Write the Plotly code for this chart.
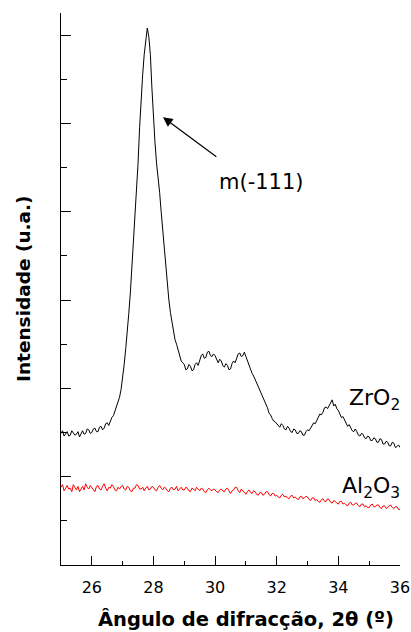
import plotly.graph_objects as go

# ---- data ----
angle_2theta = [
    25.00, 25.05, 25.10, 25.15, 25.20, 25.25, 25.30, 25.35, 25.40, 25.45, 25.50, 25.55, 25.60, 25.65, 25.70, 25.75, 25.80, 25.85, 25.90, 25.95,
    26.00, 26.05, 26.10, 26.15, 26.20, 26.25, 26.30, 26.35, 26.40, 26.45, 26.50, 26.55, 26.60, 26.65, 26.70, 26.75, 26.80, 26.85, 26.90, 26.95,
    27.00, 27.05, 27.10, 27.15, 27.20, 27.25, 27.30, 27.35, 27.40, 27.45, 27.50, 27.55, 27.60, 27.65, 27.70, 27.75, 27.80, 27.85, 27.90, 27.95,
    28.00, 28.05, 28.10, 28.15, 28.20, 28.25, 28.30, 28.35, 28.40, 28.45, 28.50, 28.55, 28.60, 28.65, 28.70, 28.75, 28.80, 28.85, 28.90, 28.95,
    29.00, 29.05, 29.10, 29.15, 29.20, 29.25, 29.30, 29.35, 29.40, 29.45, 29.50, 29.55, 29.60, 29.65, 29.70, 29.75, 29.80, 29.85, 29.90, 29.95,
    30.00, 30.05, 30.10, 30.15, 30.20, 30.25, 30.30, 30.35, 30.40, 30.45, 30.50, 30.55, 30.60, 30.65, 30.70, 30.75, 30.80, 30.85, 30.90, 30.95,
    31.00, 31.05, 31.10, 31.15, 31.20, 31.25, 31.30, 31.35, 31.40, 31.45, 31.50, 31.55, 31.60, 31.65, 31.70, 31.75, 31.80, 31.85, 31.90, 31.95,
    32.00, 32.05, 32.10, 32.15, 32.20, 32.25, 32.30, 32.35, 32.40, 32.45, 32.50, 32.55, 32.60, 32.65, 32.70, 32.75, 32.80, 32.85, 32.90, 32.95,
    33.00, 33.05, 33.10, 33.15, 33.20, 33.25, 33.30, 33.35, 33.40, 33.45, 33.50, 33.55, 33.60, 33.65, 33.70, 33.75, 33.80, 33.85, 33.90, 33.95,
    34.00, 34.05, 34.10, 34.15, 34.20, 34.25, 34.30, 34.35, 34.40, 34.45, 34.50, 34.55, 34.60, 34.65, 34.70, 34.75, 34.80, 34.85, 34.90, 34.95,
    35.00, 35.05, 35.10, 35.15, 35.20, 35.25, 35.30, 35.35, 35.40, 35.45, 35.50, 35.55, 35.60, 35.65, 35.70, 35.75, 35.80, 35.85, 35.90, 35.95,
    36.00]

int_zro2 = [
    1.49, 1.52, 1.46, 1.49, 1.51, 1.46, 1.47, 1.52, 1.50, 1.47, 1.48, 1.51, 1.45, 1.49, 1.52, 1.48, 1.49, 1.54, 1.53, 1.49,
    1.50, 1.54, 1.55, 1.51, 1.51, 1.56, 1.57, 1.53, 1.55, 1.60, 1.61, 1.58, 1.63, 1.67, 1.69, 1.74, 1.78, 1.83, 1.90, 1.99,
    2.12, 2.27, 2.45, 2.63, 2.85, 3.08, 3.35, 3.68, 4.00, 4.25, 4.55, 4.95, 5.30, 5.55, 5.78, 5.95, 6.08, 5.98, 5.78, 5.40,
    5.05, 4.78, 4.55, 4.40, 4.22, 4.00, 3.78, 3.56, 3.35, 3.16, 3.00, 2.86, 2.75, 2.63, 2.55, 2.50, 2.44, 2.37, 2.31, 2.29,
    2.27, 2.21, 2.22, 2.27, 2.25, 2.20, 2.21, 2.27, 2.29, 2.26, 2.33, 2.37, 2.39, 2.34, 2.35, 2.41, 2.42, 2.37, 2.36, 2.39,
    2.37, 2.32, 2.29, 2.33, 2.31, 2.26, 2.24, 2.28, 2.26, 2.21, 2.22, 2.28, 2.31, 2.29, 2.34, 2.39, 2.40, 2.36, 2.37, 2.41,
    2.36, 2.31, 2.27, 2.22, 2.17, 2.14, 2.10, 2.05, 2.02, 1.99, 1.95, 1.90, 1.86, 1.83, 1.78, 1.72, 1.70, 1.66, 1.63, 1.62,
    1.60, 1.57, 1.56, 1.60, 1.58, 1.54, 1.53, 1.57, 1.55, 1.51, 1.50, 1.54, 1.53, 1.49, 1.49, 1.52, 1.51, 1.47, 1.47, 1.51,
    1.53, 1.52, 1.55, 1.59, 1.61, 1.60, 1.64, 1.69, 1.71, 1.70, 1.73, 1.78, 1.79, 1.77, 1.81, 1.85, 1.87, 1.80, 1.82, 1.77,
    1.75, 1.71, 1.67, 1.68, 1.64, 1.59, 1.57, 1.59, 1.56, 1.52, 1.51, 1.54, 1.51, 1.47, 1.46, 1.49, 1.48, 1.44, 1.43, 1.46,
    1.45, 1.41, 1.41, 1.44, 1.43, 1.39, 1.39, 1.43, 1.42, 1.37, 1.37, 1.40, 1.39, 1.35, 1.35, 1.39, 1.38, 1.33, 1.34, 1.36,
    1.33]

int_al2o3 = [
    0.88, 0.91, 0.84, 0.87, 0.90, 0.86, 0.87, 0.83, 0.91, 0.88, 0.85, 0.89, 0.83, 0.86, 0.89, 0.85, 0.92, 0.88, 0.86, 0.90,
    0.88, 0.85, 0.83, 0.89, 0.90, 0.86, 0.85, 0.89, 0.92, 0.87, 0.84, 0.88, 0.87, 0.91, 0.89, 0.85, 0.84, 0.88, 0.86, 0.89,
    0.90, 0.86, 0.85, 0.89, 0.88, 0.84, 0.83, 0.87, 0.87, 0.91, 0.90, 0.86, 0.86, 0.88, 0.84, 0.87, 0.89, 0.85, 0.86, 0.89,
    0.88, 0.85, 0.84, 0.88, 0.90, 0.87, 0.85, 0.88, 0.87, 0.84, 0.83, 0.87, 0.88, 0.85, 0.86, 0.89, 0.84, 0.86, 0.88, 0.85,
    0.85, 0.88, 0.87, 0.84, 0.83, 0.87, 0.86, 0.84, 0.88, 0.86, 0.84, 0.87, 0.86, 0.83, 0.82, 0.85, 0.87, 0.85, 0.84, 0.86,
    0.85, 0.83, 0.82, 0.85, 0.86, 0.84, 0.83, 0.86, 0.87, 0.84, 0.81, 0.84, 0.85, 0.88, 0.88, 0.84, 0.82, 0.86, 0.84, 0.82,
    0.80, 0.83, 0.85, 0.82, 0.81, 0.84, 0.83, 0.80, 0.79, 0.82, 0.82, 0.79, 0.80, 0.83, 0.83, 0.80, 0.78, 0.81, 0.81, 0.78,
    0.79, 0.77, 0.76, 0.79, 0.80, 0.77, 0.78, 0.76, 0.75, 0.78, 0.79, 0.76, 0.77, 0.75, 0.74, 0.77, 0.78, 0.75, 0.76, 0.78,
    0.77, 0.74, 0.73, 0.76, 0.76, 0.73, 0.74, 0.72, 0.71, 0.74, 0.75, 0.72, 0.72, 0.75, 0.74, 0.71, 0.70, 0.73, 0.72, 0.70,
    0.69, 0.72, 0.72, 0.69, 0.70, 0.68, 0.67, 0.70, 0.71, 0.68, 0.68, 0.70, 0.70, 0.67, 0.66, 0.69, 0.69, 0.66, 0.67, 0.65,
    0.65, 0.68, 0.69, 0.66, 0.66, 0.68, 0.68, 0.65, 0.64, 0.67, 0.67, 0.64, 0.65, 0.67, 0.68, 0.65, 0.64, 0.66, 0.66, 0.63,
    0.63]

x_ticks = [26, 28, 30, 32, 34, 36]

FONT = "DejaVu Sans, Arial, sans-serif"

fig = go.Figure()
fig.add_trace(go.Scatter(x=angle_2theta, y=int_zro2, mode="lines",
                         line=dict(color="black", width=1), name="ZrO2"))
fig.add_trace(go.Scatter(x=angle_2theta, y=int_al2o3, mode="lines",
                         line=dict(color="#ff0000", width=1), name="Al2O3"))

fig.update_layout(
    width=411, height=632,
    margin=dict(l=61, r=11, t=13, b=67),
    paper_bgcolor="white", plot_bgcolor="white",
    showlegend=False,
    font=dict(family=FONT, color="black"),
)
fig.update_xaxes(
    range=[25, 36], tickvals=x_ticks, ticks="inside", ticklen=9, tickwidth=1,
    tickcolor="black", showline=True, linecolor="black", linewidth=1,
    showgrid=False, zeroline=False, tickfont=dict(size=16, family=FONT),
    automargin=False, ticklabelstandoff=8,
    minor=dict(dtick=1, tick0=25, ticks="inside", ticklen=4, tickcolor="black", showgrid=False),
)
fig.update_yaxes(
    range=[0, 6.25], dtick=1, tick0=0, ticks="inside", ticklen=10, tickwidth=1,
    tickcolor="black", showline=True, linecolor="black", linewidth=1,
    showgrid=False, zeroline=False, showticklabels=False, automargin=False,
    minor=dict(dtick=0.5, tick0=0, ticks="inside", ticklen=6, tickcolor="black", showgrid=False),
)

# axis titles
fig.add_annotation(text="<b>Ângulo de difracção, 2θ (º)</b>", xref="paper", yref="paper",
                   x=0.545, y=0, yshift=-54, showarrow=False, yanchor="middle",
                   font=dict(size=19.5, family=FONT))
fig.add_annotation(text="<b>Intensidade (u.a.)</b>", xref="paper", yref="paper",
                   x=0, xshift=-38, y=0.5, textangle=-90, showarrow=False,
                   xanchor="center", yanchor="middle", font=dict(size=18.5, family=FONT))

# peak annotation
fig.add_annotation(x=28.31, y=5.07, ax=30.09, ay=4.61, axref="x", ayref="y",
                   text="", showarrow=True, arrowhead=2, arrowsize=1.6, arrowwidth=1.2,
                   arrowcolor="black")
fig.add_annotation(x=30.06, y=4.34, text="m(-111)", showarrow=False, xanchor="left",
                   yanchor="middle", font=dict(size=21, family=FONT))
fig.add_annotation(x=34.27, y=1.87, text="ZrO<sub>2</sub>", showarrow=False, xanchor="left",
                   yanchor="middle", font=dict(size=22, family=FONT))
fig.add_annotation(x=34.05, y=0.88, text="Al<sub>2</sub>O<sub>3</sub>", showarrow=False,
                   xanchor="left", yanchor="middle", font=dict(size=22, family=FONT))

fig.write_html("out.html", config={"displayModeBar": False},
               post_script="document.body.style.margin='0px';document.body.style.padding='0px';")
